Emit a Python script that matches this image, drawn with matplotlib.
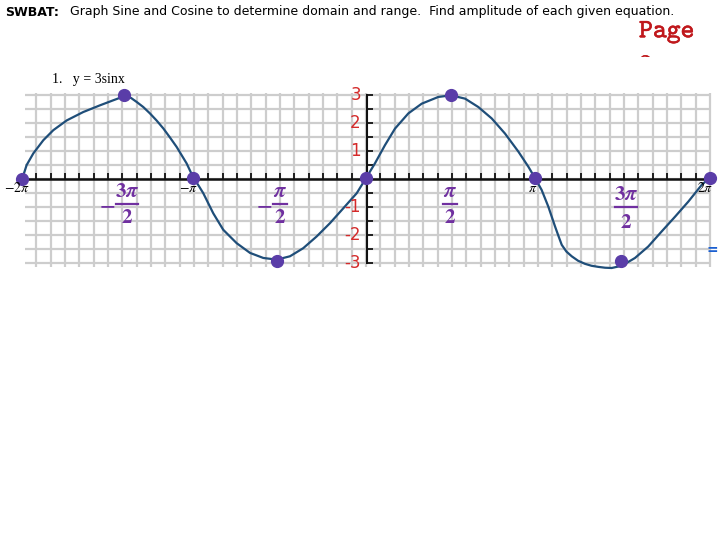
import matplotlib
matplotlib.use('Agg')
import matplotlib.pyplot as plt
import matplotlib.patheffects as pe
from matplotlib.transforms import Bbox
import numpy as np

plt.rcParams['mathtext.fontset'] = 'stix'

# curve (x in units of pi, y)
curveX = [-2.0, -1.985, -1.973, -1.934, -1.876, -1.818, -1.74, -1.644, -1.547, -1.47, -1.40,
          -1.365, -1.333, -1.295, -1.256, -1.218, -1.178, -1.14, -1.101, -1.043, -1.004,
          -0.975, -0.946, -0.917, -0.888, -0.83, -0.752, -0.674, -0.597, -0.519, -0.442, -0.365,
          -0.287, -0.209, -0.132, -0.054, 0.0,
          0.052, 0.11, 0.169, 0.246, 0.324, 0.42, 0.494, 0.576, 0.653, 0.731,
          0.808, 0.886, 0.944, 0.983,
          1.021, 1.06, 1.099, 1.12, 1.138, 1.165, 1.196, 1.233, 1.273, 1.311, 1.351, 1.39, 1.428,
          1.487, 1.564, 1.641, 1.719, 1.797, 1.874, 1.952, 2.0]
curveY = [0.0, 0.27, 0.5, 0.92, 1.39, 1.75, 2.1, 2.4, 2.64, 2.82, 2.98,
          2.9, 2.76, 2.58, 2.35, 2.1, 1.81, 1.49, 1.15, 0.56, 0.05,
          -0.22, -0.51, -0.87, -1.23, -1.82, -2.30, -2.65, -2.83, -2.89, -2.77, -2.48,
          -2.06, -1.58, -1.05, -0.51, 0.03,
          0.56, 1.21, 1.81, 2.35, 2.70, 2.94, 3.0, 2.88, 2.58, 2.17,
          1.63, 0.98, 0.44, 0.03,
          -0.39, -0.99, -1.70, -2.06, -2.36, -2.6, -2.77, -2.93, -3.04, -3.11, -3.15, -3.18, -3.19,
          -3.11, -2.83, -2.42, -1.88, -1.35, -0.81, -0.21, 0.05]

# key points (dots)
dotX = [-2.0, -1.407, -1.004, -0.517, 0.0, 0.494, 0.983, 1.483, 2.0]
dotY = [0.0, 3.0, 0.05, -2.93, 0.02, 3.0, 0.02, -2.93, 0.05]

yTickVals = [3, 2, 1, -1, -2, -3]
yTickLabels = ['3', '2', '1', '-1', '-2', '-3']

# purple fraction labels: (x, minus?, numerator)
fracX = [-1.39, -0.50, 0.49, 1.51]
fracNeg = [True, True, False, False]
fracNum = [r'$\mathbf{3}\boldsymbol{\pi}$', r'$\boldsymbol{\pi}$',
           r'$\boldsymbol{\pi}$', r'$\mathbf{3}\boldsymbol{\pi}$']

piX = [-2.0, -1.0, 1.0, 2.0]
piLabels = [r'$-2\pi$', r'$-\pi$', r'$\pi$', r'$2\pi$']

purple = '#7030a0'
red = '#d42a2a'

fig = plt.figure(figsize=(7.2, 5.4), dpi=100)
ax = fig.add_axes([0, 0, 1, 1])
# pixel mapping: x = (px-366)/172 , y = (179-py)/27.9
ax.set_xlim((0 - 366) / 172., (720 - 366) / 172.)
ax.set_ylim((179 - 540) / 27.9, (179 - 0) / 27.9)
ax.axis('off')

# grid
gx = np.arange(-24, 25) / 12.
gy = np.arange(-6, 7) / 2.
ax.vlines(gx[1:], -3.15, 3.08, color='#cdcdcd', lw=1.6, zorder=1)
ax.hlines(gy, -1.985, 2.0, color='#cdcdcd', lw=1.6, zorder=1)

# axes
ax.plot([-2.0, 2.0], [0, 0], color='#111111', lw=1.8, zorder=2)
ax.vlines(gx, 0, 0.2, color='#111111', lw=1.3, zorder=2)
ax.plot([0.005, 0.005], [-3.02, 3.02], color='#111111', lw=1.5, zorder=2)
ax.hlines(gy, 0.005, 0.04, color='#111111', lw=1.3, zorder=2)

# curve and dots
ax.plot(curveX, curveY, color='#1f4e79', lw=1.6, zorder=3)
ax.plot(dotX, dotY, 'o', color='#5a3da8', ms=8.5, zorder=4, clip_on=False)

# red y labels
for v, t in zip(yTickVals, yTickLabels):
    ax.text(-0.03, v, t, color=red, fontsize=12, ha='right', va='center',
            family='DejaVu Sans', zorder=5)

# black pi labels
for x, t in zip(piX, piLabels):
    ax.text(x - 0.03, -0.33, t, fontsize=10, ha='center', va='center', zorder=5)

# purple fraction labels
for x, neg, num in zip(fracX, fracNeg, fracNum):
    dy = -0.12 if x > 1 else 0.0
    ax.text(x, -0.42 + dy, num, color=purple, fontsize=15, ha='center', va='center', zorder=5)
    half = 0.065 if '3' in num else 0.04
    ax.plot([x - half, x + half], [-0.9 + dy, -0.9 + dy], color=purple, lw=1.6, zorder=5)
    ax.text(x, -1.37 + dy * 1.5, r'$\mathbf{2}$', color=purple, fontsize=15,
            ha='center', va='center', zorder=5)
    if neg:
        ax.text(x - half - 0.05, -0.9, r'$\mathbf{-}$', color=purple, fontsize=15,
                ha='center', va='center', zorder=5)

# texts
fig.text(52 / 720., 1 - 80 / 540., '1.   y = 3sinx', family='Liberation Serif',
         fontsize=10, va='center')
fig.text(5 / 720., 1 - 12 / 540., 'SWBAT:', fontweight='bold', fontsize=9, va='center')
fig.text(70 / 720., 1 - 12 / 540.,
         'Graph Sine and Cosine to determine domain and range.  Find amplitude of each given equation.',
         fontsize=9, va='center')
bold = [pe.withStroke(linewidth=0.4, foreground='#c0181c')]
fig.text(639 / 720., 1 - 32 / 540., r'$\mathtt{Page}$', math_fontfamily='cm',
         color='#c0181c', fontsize=19, va='center', path_effects=bold)
t2 = fig.text(639 / 720., 1 - 66 / 540., r'$\mathtt{2}$', math_fontfamily='cm',
              color='#c0181c', fontsize=19, va='center', path_effects=bold)
t2.set_clip_box(Bbox([[600, 540 - 57], [720, 540]]))
fig.text(707 / 720., 1 - 250 / 540., '=', color='#1a5fd0', fontsize=10,
         fontweight='bold', va='center')

fig.savefig('out.png', dpi=100)
